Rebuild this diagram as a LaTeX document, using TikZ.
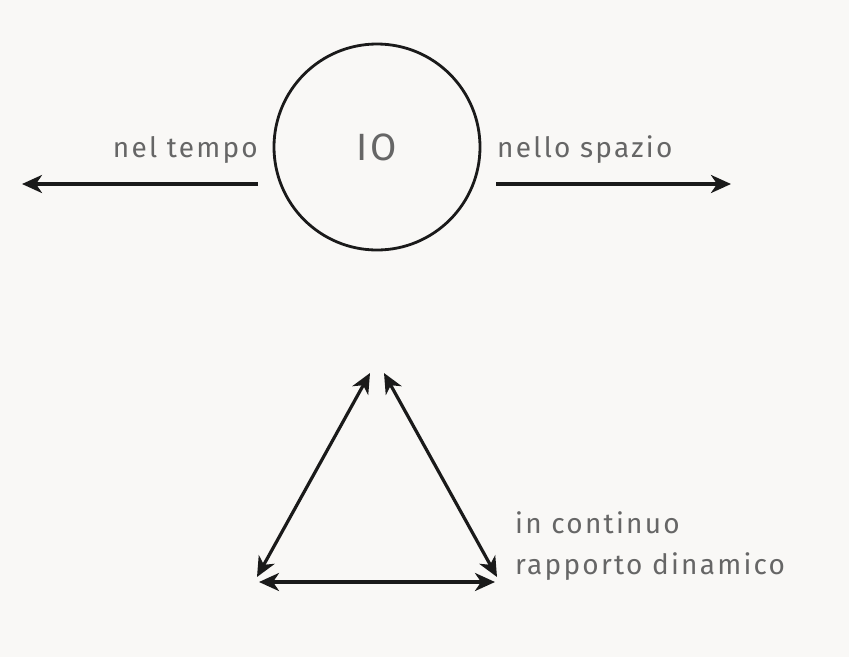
\documentclass[tikz,border=0pt]{standalone}
\usepackage{fontspec}
\setmainfont{Fira Sans}[LetterSpace=8]
\usetikzlibrary{arrows.meta}
\definecolor{bg}{HTML}{F9F8F6}
\definecolor{txt}{HTML}{666666}
\definecolor{ln}{HTML}{1A1A1A}
\begin{document}
\begin{tikzpicture}[x=1pt,y=-1pt,
  arr/.style={draw=ln,line width=3.2pt,-{Stealth[length=20pt,width=18pt,inset=6pt]}},
  darr/.style={draw=ln,line width=3.2pt,{Stealth[length=20pt,width=18pt,inset=6pt]}-{Stealth[length=20pt,width=18pt,inset=6pt]}},
  lbl/.style={text=txt,font=\fontsize{28}{32}\selectfont,inner sep=0pt}]
\fill[bg] (0,0) rectangle (849,657);
\useasboundingbox (0,0) rectangle (849,657);
\node[draw=ln,line width=2.8pt,circle,minimum size=206pt,inner sep=0pt,text=txt,font=\fontsize{38}{42}\selectfont] (io) at (377,147) {IO};
\coordinate (l0) at (258,184); \coordinate (l1) at (22,184);
\coordinate (r0) at (496,184); \coordinate (r1) at (731,184);
\draw[arr] (l0) -- (l1);
\draw[arr] (r0) -- (r1);
\node[lbl,anchor=east] (nt) at (258,150) {nel tempo};
\node[lbl,anchor=west] (ns) at (497,150) {nello spazio};
\coordinate (tl) at (370,373); \coordinate (tr) at (384,373);
\coordinate (bl1) at (257,577); \coordinate (br1) at (497,577);
\coordinate (bl2) at (259,582); \coordinate (br2) at (495,582);
\draw[darr] (bl1) -- (tl);
\draw[darr] (br1) -- (tr);
\draw[darr] (bl2) -- (br2);
\node[lbl,anchor=west] (c1) at (515,523) {in continuo};
\node[lbl,anchor=west] (c2) at (515,567) {rapporto dinamico};
\end{tikzpicture}
\end{document}
